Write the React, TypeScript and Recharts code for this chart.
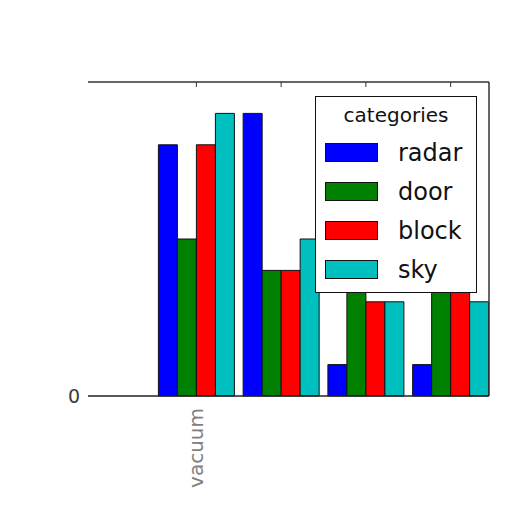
import { Bar, BarChart, Legend, XAxis, YAxis } from "recharts";

// category labels under each bar group (only the first one is legible)
const categories = ["vacuum", "", "", ""];

// series values, one per category
const radar = [4, 4.5, 0.5, 0.5];
const door = [2.5, 2, 2, 2];
const block = [4, 2, 1.5, 2];
const sky = [4.5, 2.5, 1.5, 1.5];

const seriesOrder = ["radar", "door", "block", "sky"];

const leftTicks = [0];
const rightTicks = [1, 2, 3, 4];

const data = categories.map((name, i) => ({
  name,
  radar: radar[i],
  door: door[i],
  block: block[i],
  sky: sky[i],
}));

const FONT = '"DejaVu Sans", sans-serif';

function RotatedTick(props: any) {
  const { x, y, payload } = props;
  return (
    <text
      x={x}
      y={y}
      transform={`rotate(-90, ${x}, ${y})`}
      textAnchor="end"
      dx={-4}
      dy="0.35em"
      fontSize={20}
      fill="#808080"
      fontFamily={FONT}
    >
      {payload.value}
    </text>
  );
}

function LegendBox({ payload }: any) {
  // keep the plotting order, not the alphabetical one
  const items = [...(payload || [])].sort(
    (a: any, b: any) => seriesOrder.indexOf(a.value) - seriesOrder.indexOf(b.value)
  );
  return (
    <div
      style={{
        width: 162,
        height: 197,
        boxSizing: "border-box",
        border: "1.5px solid #111",
        background: "#fff",
        fontFamily: FONT,
        color: "#111",
      }}
    >
      <div style={{ height: 36, lineHeight: "36px", textAlign: "center", fontSize: 20 }}>
        categories
      </div>
      {items.map((entry: any) => (
        <div key={entry.value} style={{ height: 39, display: "flex", alignItems: "center" }}>
          <span
            style={{
              marginLeft: 9,
              width: 53,
              height: 19,
              boxSizing: "border-box",
              border: "1px solid #111",
              background: entry.color,
              display: "inline-block",
            }}
          />
          <span style={{ marginLeft: 20, fontSize: 24, lineHeight: "24px" }}>{entry.value}</span>
        </div>
      ))}
    </div>
  );
}

export default function App() {
  return (
    <div
      style={{
        position: "absolute",
        left: 0,
        top: 0,
        width: 512,
        height: 512,
        background: "#fff",
        fontFamily: FONT,
      }}
    >
      <BarChart
        width={512}
        height={512}
        data={data}
        margin={{ top: 82, right: 23, bottom: 86, left: 0 }}
        barCategoryGap={4.4}
        barGap={0}
      >
        <XAxis
          xAxisId="bottom"
          dataKey="name"
          height={30}
          padding={{ left: 66, right: -4 }}
          axisLine={{ stroke: "#222", strokeWidth: 1.5 }}
          tickLine={false}
          tick={<RotatedTick />}
          interval={0}
        />
        <XAxis
          xAxisId="top"
          dataKey="name"
          orientation="top"
          mirror
          padding={{ left: 66, right: -4 }}
          axisLine={{ stroke: "#333", strokeWidth: 1.5 }}
          tickLine={{ stroke: "#333" }}
          tickSize={5}
          tickFormatter={() => ""}
          interval={0}
        />
        <YAxis
          yAxisId="left"
          width={88}
          domain={[0, 5]}
          ticks={leftTicks}
          axisLine={false}
          tickLine={false}
          tick={{ fontSize: 19, fill: "#3a3a3a", fontFamily: FONT }}
        />
        <YAxis
          yAxisId="right"
          orientation="right"
          mirror
          domain={[0, 5]}
          ticks={rightTicks}
          axisLine={{ stroke: "#333", strokeWidth: 1.5 }}
          tickLine={{ stroke: "#333" }}
          tickSize={5}
          tickFormatter={() => ""}
        />
        <Legend
          layout="horizontal"
          verticalAlign="middle"
          width={162}
          height={197}
          wrapperStyle={{ left: 315, top: 96, width: 162, height: 197 }}
          content={<LegendBox />}
        />
        <Bar xAxisId="bottom" yAxisId="left" dataKey="radar" name="radar" fill="#0000ff" stroke="#111" strokeWidth={1} isAnimationActive={false} />
        <Bar xAxisId="bottom" yAxisId="left" dataKey="door" name="door" fill="#008000" stroke="#111" strokeWidth={1} isAnimationActive={false} />
        <Bar xAxisId="bottom" yAxisId="left" dataKey="block" name="block" fill="#ff0000" stroke="#111" strokeWidth={1} isAnimationActive={false} />
        <Bar xAxisId="bottom" yAxisId="left" dataKey="sky" name="sky" fill="#00bfbf" stroke="#111" strokeWidth={1} isAnimationActive={false} />
      </BarChart>
    </div>
  );
}
